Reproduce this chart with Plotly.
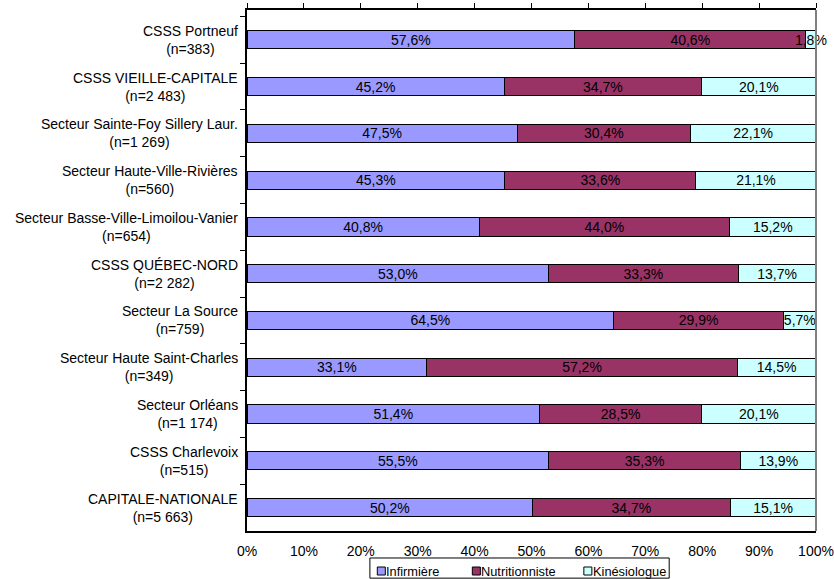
import plotly.graph_objects as go

# Regions / sectors, top to bottom, with sample sizes
regions = [
    "CSSS Portneuf",
    "CSSS VIEILLE-CAPITALE",
    "Secteur Sainte-Foy Sillery Laur.",
    "Secteur Haute-Ville-Rivières",
    "Secteur Basse-Ville-Limoilou-Vanier",
    "CSSS QUÉBEC-NORD",
    "Secteur La Source",
    "Secteur Haute Saint-Charles",
    "Secteur Orléans",
    "CSSS Charlevoix",
    "CAPITALE-NATIONALE",
]
sample_sizes = ["383", "2 483", "1 269", "560", "654", "2 282", "759", "349", "1 174", "515", "5 663"]

# Share of each professional (%)
infirmiere = [57.6, 45.2, 47.5, 45.3, 40.8, 53.0, 64.5, 33.1, 51.4, 55.5, 50.2]
nutritionniste = [40.6, 34.7, 30.4, 33.6, 44.0, 33.3, 29.9, 57.2, 28.5, 35.3, 34.7]
kinesiologue = [1.8, 20.1, 22.1, 21.1, 15.2, 13.7, 5.7, 14.5, 20.1, 13.9, 15.1]

x_tick_vals = [0, 10, 20, 30, 40, 50, 60, 70, 80, 90, 100]
x_tick_text = ["0%", "10%", "20%", "30%", "40%", "50%", "60%", "70%", "80%", "90%", "100%"]

FONT = "Arial, Liberation Sans, sans-serif"
FS = 14


def fmt(v):
    return f"{v:.1f}".replace(".", ",") + "%"


series = [
    ("Infirmière", infirmiere, "#9999FF"),
    ("Nutritionniste", nutritionniste, "#993366"),
    ("Kinésiologue", kinesiologue, "#CCFFFF"),
]

fig = go.Figure()
for name, vals, color in series:
    fig.add_trace(go.Bar(
        y=regions,
        x=vals,
        name=name,
        orientation="h",
        marker=dict(color=color, line=dict(color="black", width=1)),
        text=[fmt(v) for v in vals],
        textposition="inside",
        insidetextanchor="middle",
        constraintext="none",
        cliponaxis=False,
        textangle=0,
        textfont=dict(family=FONT, size=FS, color="black"),
        hoverinfo="skip",
        showlegend=False,
    ))

# invisible trace carrying the top tick axis
fig.add_trace(go.Scatter(x=[0, 100], y=[regions[0], regions[0]], xaxis="x2",
                         mode="markers", marker=dict(opacity=0),
                         showlegend=False, hoverinfo="skip"))

# two-line, centred category labels
for reg, n in zip(regions, sample_sizes):
    fig.add_annotation(
        x=0, xref="paper", y=reg, yref="y",
        text=f"{reg}<br>(n={n})",
        xanchor="right", yanchor="middle", align="center",
        xshift=-7, showarrow=False,
        font=dict(family=FONT, size=FS, color="black"),
    )

# right frame edge
fig.add_shape(type="line", xref="paper", yref="paper", x0=1, x1=1, y0=0, y1=1,
              line=dict(color="#808080", width=2))

# compact boxed legend below the axis
fig.add_shape(type="rect", xref="paper", yref="paper",
              x0=0.216, x1=0.742, y0=-0.0905, y1=-0.0518,
              line=dict(color="black", width=1), fillcolor="white")
legend_x = [0.229, 0.396, 0.592]   # swatch left edges (paper units)
swatch_w = 0.0141
for (name, _, color), lx in zip(series, legend_x):
    fig.add_shape(type="rect", xref="paper", yref="paper",
                  x0=lx, x1=lx + swatch_w, y0=-0.0845, y1=-0.0691,
                  line=dict(color="black", width=1), fillcolor=color)
    fig.add_annotation(x=lx + swatch_w, xref="paper", y=-0.0768, yref="paper",
                       text=name, xanchor="left", yanchor="middle", showarrow=False,
                       xshift=-1, font=dict(family=FONT, size=12.8, color="black"))

fig.update_layout(
    width=834, height=579,
    margin=dict(l=247, r=18, t=10, b=48, autoexpand=False),
    paper_bgcolor="white", plot_bgcolor="white",
    barmode="stack", barnorm="percent", bargap=0.61,
    font=dict(family=FONT, size=FS, color="black"),
    showlegend=False,
    xaxis=dict(
        range=[0, 100.0001], tickvals=x_tick_vals, ticktext=x_tick_text,
        showgrid=False, zeroline=False, showline=True, linecolor="black", linewidth=1.5,
        ticks="", ticklabelstandoff=6, automargin=False,
        tickfont=dict(family=FONT, size=FS, color="black"),
    ),
    xaxis2=dict(
        overlaying="x", side="top", range=[0, 100.0001], tickvals=x_tick_vals,
        showticklabels=False, ticks="outside", ticklen=5, tickcolor="black",
        showgrid=False, zeroline=False, showline=True, linecolor="black", linewidth=1.5,
        automargin=False,
    ),
    yaxis=dict(
        categoryorder="array", categoryarray=regions, autorange="reversed",
        showticklabels=False, ticks="outside", tickson="boundaries", ticklen=5,
        tickcolor="black", showline=True, linecolor="black", linewidth=1.5,
        showgrid=False, zeroline=False, automargin=False,
    ),
)

fig.write_html("out.html")
